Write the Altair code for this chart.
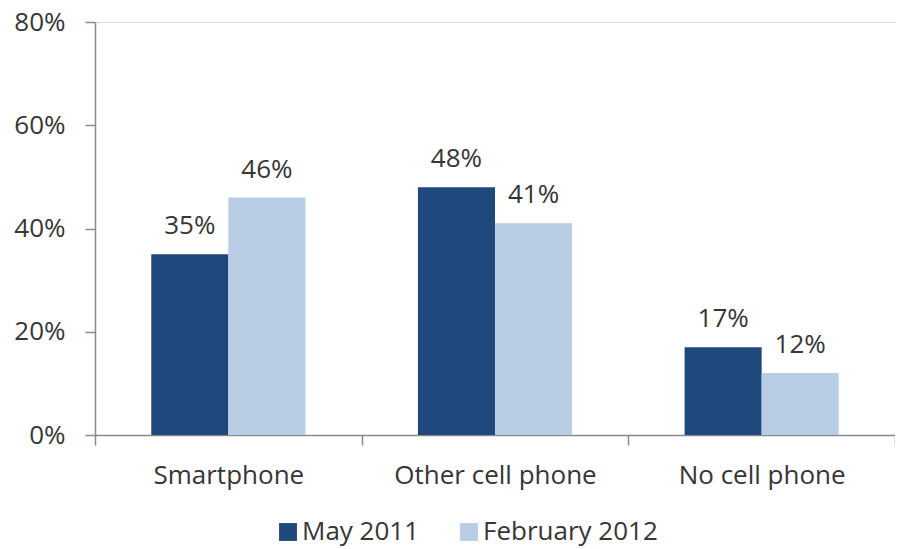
import altair as alt
import pandas as pd

categories = ["Smartphone", "Other cell phone", "No cell phone"]
series = ["May 2011", "February 2012"]
may_2011 = [35, 48, 17]
feb_2012 = [46, 41, 12]
colors = ["#1F497D", "#B9CDE5"]

rows = []
for c, v in zip(categories, may_2011):
    rows.append({"category": c, "period": series[0], "value": v})
for c, v in zip(categories, feb_2012):
    rows.append({"category": c, "period": series[1], "value": v})
df = pd.DataFrame(rows)

FONT = "Open Sans"
TXT = "#363636"
AX = "#8a8a8a"

x = alt.X(
    "category:N",
    sort=categories,
    scale=alt.Scale(paddingInner=0, paddingOuter=0),
    axis=alt.Axis(
        title=None, labelAngle=0, tickBand="extent", tickSize=10, tickColor=AX,
        tickWidth=1.5, domainColor=AX, domainWidth=1.5, labelPadding=17,
        labelFontSize=26, labelFont=FONT, labelColor=TXT, grid=False, labelLimit=400,
    ),
)
xoff = alt.XOffset(
    "period:N", sort=series,
    scale=alt.Scale(paddingInner=0, paddingOuter=0.73),
)
y = alt.Y(
    "value:Q",
    scale=alt.Scale(domain=[0, 80], nice=False),
    axis=alt.Axis(
        title=None, values=[0, 20, 40, 60, 80], labelExpr="datum.value + '%'",
        tickSize=10, tickColor=AX, tickWidth=1.5, domainColor=AX, domainWidth=1.5,
        labelPadding=20, labelFontSize=26, labelFont=FONT, labelColor=TXT, grid=False,
    ),
)

bars = alt.Chart(df).mark_bar().encode(
    x=x,
    xOffset=xoff,
    y=y,
    color=alt.Color(
        "period:N",
        sort=series,
        scale=alt.Scale(domain=series, range=colors),
        legend=alt.Legend(
            title=None, orient="none", legendX=180, legendY=497, direction="horizontal",
            symbolType="square", symbolSize=320, symbolStrokeWidth=0, symbolOpacity=1,
            labelFontSize=26, labelFont=FONT, labelColor=TXT, labelOffset=1,
            columnPadding=36, padding=0, labelLimit=400,
        ),
    ),
)

labels = alt.Chart(df).mark_text(
    baseline="bottom", dy=-15, fontSize=26, font=FONT, color=TXT
).encode(
    x=alt.X("category:N", sort=categories),
    xOffset=xoff,
    y=alt.Y("value:Q"),
    text=alt.Text("label:N"),
).transform_calculate(label="datum.value + '%'")

chart = (
    alt.layer(bars, labels)
    .properties(
        width=800, height=413,
        autosize=alt.AutoSizeParams(type="none"),
        padding={"left": 87, "top": 14, "right": 0, "bottom": 114},
    )
    .configure_view(stroke=None)
    .configure(background="white")
)

chart.save("out.html", embed_options={"renderer": "svg", "actions": False})
